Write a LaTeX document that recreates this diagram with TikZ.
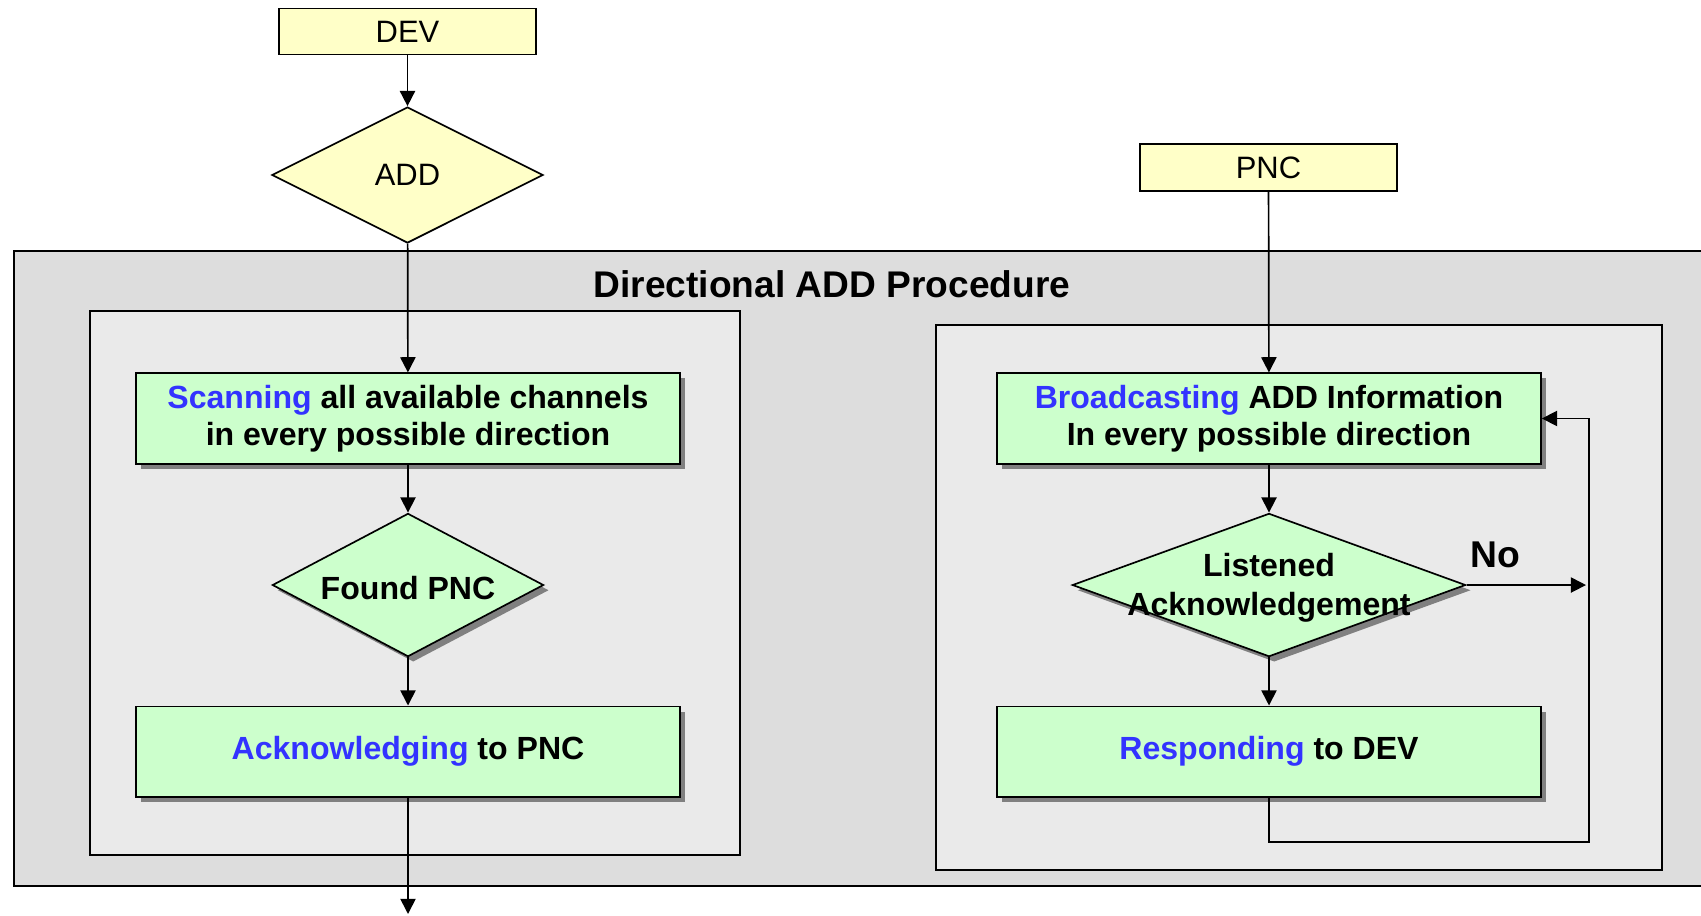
\documentclass[tikz,border=0pt]{standalone}
\usepackage{fontspec}
\setmainfont{Liberation Sans}
\usetikzlibrary{arrows.meta,positioning,shapes.geometric,shadows}
\definecolor{entyellow}{RGB}{255,255,200}
\definecolor{stepgreen}{RGB}{204,255,204}
\definecolor{outergray}{RGB}{221,221,221}
\definecolor{innergray}{RGB}{234,234,234}
\definecolor{actblue}{RGB}{51,51,255}
\tikzset{
  entity/.style={rectangle, draw=black, line width=1.2pt, fill=entyellow,
    font=\fontsize{22}{26}\selectfont, minimum width=6.43cm, minimum height=1.15cm, inner sep=0pt},
  entdec/.style={diamond, draw=black, line width=1.2pt, fill=entyellow,
    font=\fontsize{22}{26}\selectfont, minimum width=6.78cm, minimum height=3.4cm, inner sep=0pt},
  stepbox/.style={rectangle, draw=black, line width=1.2pt, fill=stepgreen,
    font=\bfseries\fontsize{22.8}{26.5}\selectfont, align=center,
    minimum width=13.6cm, minimum height=2.26cm, inner sep=0pt,
    drop shadow={shadow xshift=0.13cm, shadow yshift=-0.13cm, fill=black!50, opacity=1}},
  checkdec/.style={diamond, draw=black, line width=1.2pt, fill=stepgreen,
    minimum height=3.58cm, inner sep=0pt,
    drop shadow={shadow xshift=0.13cm, shadow yshift=-0.13cm, fill=black!50, opacity=1}},
  checktxt/.style={font=\bfseries\fontsize{22.8}{27.5}\selectfont, align=center, inner sep=0pt,
    yshift=-0.07cm},
  outerpanel/.style={draw=black, line width=1.2pt, fill=outergray},
  innerpanel/.style={draw=black, line width=1.2pt, fill=innergray},
  arrB/.style={-{Triangle[length=3.8mm, width=3.8mm]}, line width=1.2pt, black},
}
\newcommand{\act}[1]{\textcolor{actblue}{#1}}

\begin{document}
\begin{tikzpicture}[x=0.025cm, y=0.025cm, node distance=1.2cm]
\useasboundingbox (0,0) rectangle (1701,915);

% ================= PANELS (gris) =================
\draw[outerpanel] (14,29) rectangle (1706,664);
\draw[innerpanel] (90,60) rectangle (740,604);
\draw[innerpanel] (936,45) rectangle (1662,590);

\node[font=\bfseries\fontsize{26.4}{30}\selectfont] (title) at (832,631) {Directional ADD Procedure};

% ================= LEFT TRACK : DEV =================
\node[entity] (dev) at (407.5,883.5) {DEV};
\node[entdec, below=1.27cm of dev] (add) {ADD};

\node[stepbox] (scan) at (408,496.5)
  {\act{Scanning} all available channels\\in every possible direction};
\node[checkdec, minimum width=6.78cm, below=of scan] (found) {};
\node[checktxt] (foundtxt) at (found) {Found PNC};
\node[stepbox, below=of found] (ack) {\act{Acknowledging} to PNC};

\coordinate (exit) at (408,1);

% ================= RIGHT TRACK : PNC =================
\node[entity, minimum height=1.18cm] (pnc) at (1268.5,747.5) {PNC};

\node[stepbox] (bcast) at (1269,496.5)
  {\act{Broadcasting} ADD Information\\In every possible direction};
\node[checkdec, minimum width=9.83cm, below=of bcast] (lst) {};
\node[checktxt] (lsttxt) at (lst) {Listened\\Acknowledgement};
\node[stepbox, below=of lst] (resp) {\act{Responding} to DEV};

\coordinate (noend) at (1586,331);
\coordinate (loop) at (1589,73);
\node[font=\bfseries\fontsize{26.5}{30}\selectfont] (nolbl) at (1495,360) {No};

% ================= ARROWS =================
\draw[arrB] (dev) -- (add);
\draw[arrB] (add) -- (scan);
\draw[arrB] (scan) -- (found);
\draw[arrB] (found) -- (ack);
\draw[arrB] (ack) -- (exit);

\draw[arrB] (pnc) -- (bcast);
\draw[arrB] (bcast) -- (lst);
\draw[arrB] (lst) -- (resp);
\draw[arrB] (lst.east) -- (lst.east -| noend);
\draw[arrB] (resp.south) |- (loop) |- (bcast.east);

\end{tikzpicture}
\end{document}
